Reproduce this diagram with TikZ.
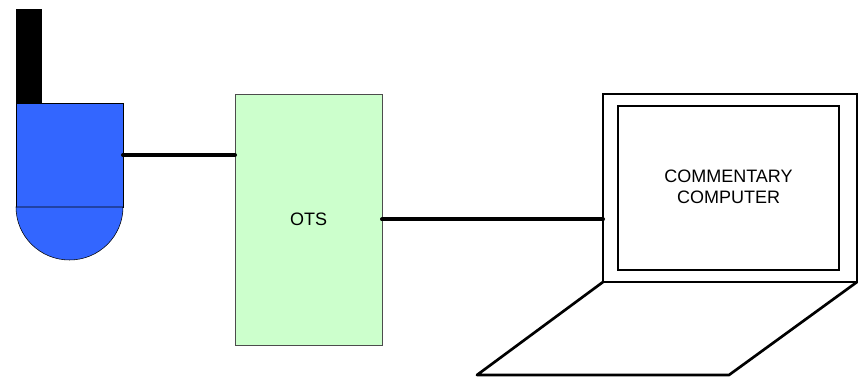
\documentclass[tikz,border=0pt]{standalone}
\usepackage{fontspec}
\setmainfont{Liberation Sans}
\usepackage{xcolor}
\usetikzlibrary{positioning, calc}
\definecolor{CamBlue}{HTML}{3366FF}
\definecolor{OtsGreen}{HTML}{CCFFCC}

\begin{document}
\begin{tikzpicture}[x=0.75pt, y=-0.75pt,
		CamPart/.style={rectangle, draw=black, fill=CamBlue, thin, inner sep=0pt, outer sep=0pt},
		OtsBox/.style={rectangle, draw=black!70, fill=OtsGreen, thin, inner sep=0pt, outer sep=0pt, minimum width=110.25pt, minimum height=188.25pt},
		LaptopBox/.style={rectangle, draw=black, line width=2pt, inner sep=0pt, outer sep=0pt},
		Cable/.style={line width=3pt, line cap=round}]

	\useasboundingbox (0, 0) rectangle (861, 377);

	% Nodes
	\node[CamPart, minimum width=80.25pt, minimum height=78pt] (CamBody) at (69.5, 155) {};
	\node[rectangle, fill=black, inner sep=0pt, outer sep=0pt, minimum width=19.5pt, minimum height=70.5pt, above right=0pt and 0pt of CamBody.north west] (CamMast) {};

	\node[OtsBox, font=\fontsize{13.5pt}{16pt}\selectfont] (Ots) at (308.5, 219.5) {OTS};

	\node[LaptopBox, minimum width=190.5pt, minimum height=141pt] (Screen) at (730, 188) {};
	\node[LaptopBox, minimum width=165.75pt, minimum height=123pt, align=center, font=\fontsize{13.5pt}{16pt}\selectfont] (Display) at (728.5, 188) {COMMENTARY\\COMPUTER\\[-14pt]};

	\coordinate (BaseLeft) at (477, 375);
	\coordinate (BaseRight) at (729, 375);

	% Camera dome
	\draw[fill=CamBlue, thin] (CamBody.south west) arc[start angle=180, end angle=360, x radius=40.125pt, y radius=39.75pt] -- cycle;

	% Laptop base
	\draw[line width=2pt, line join=round] (Screen.south west) -- (BaseLeft) -- (BaseRight) -- (Screen.south east);

	% Lines
	\draw[Cable] (CamBody.east) -- (CamBody.east -| Ots.west);
	\draw[Cable] (Ots.east) -- (Ots.east -| Screen.west);
\end{tikzpicture}
\end{document}
